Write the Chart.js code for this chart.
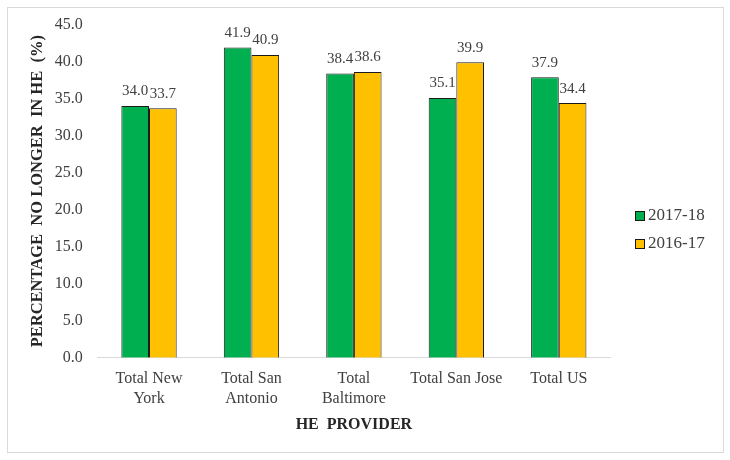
<!DOCTYPE html>
<html>
<head>
<meta charset="utf-8">
<script src="https://cdn.jsdelivr.net/npm/chart.js@4"></script>
<style>
  html, body { margin: 0; padding: 0; background: #fff; }
  #wrap {
    position: absolute; left: 7px; top: 7px;
    width: 715px; height: 444px;
    border: 1px solid #d9d9d9;
  }
  #chart { position: absolute; left: 0; top: 0; }
</style>
</head>
<body>
<div id="wrap"><canvas id="chart" width="715" height="444"></canvas></div>
<script>
const providers = [
  ["Total New", "York"],
  ["Total San", "Antonio"],
  ["Total", "Baltimore"],
  "Total San Jose",
  "Total US",
];
const values1718 = [34.0, 41.9, 38.4, 35.1, 37.9];
const values1617 = [33.7, 40.9, 38.6, 39.9, 34.4];
const seriesNames = ["2017-18", "2016-17"];

const serif = "'Liberation Serif', 'Times New Roman', serif";
const textColor = "#404040";

// numbers above the bars, drawn first so the bars can cover them like in excel
const barValues = {
  id: "barValues",
  beforeDatasetsDraw(chart) {
    const ctx = chart.ctx;
    ctx.save();
    ctx.font = "15px " + serif;
    ctx.fillStyle = textColor;
    ctx.textAlign = "center";
    ctx.textBaseline = "bottom";
    chart.data.datasets.forEach((ds, i) => {
      chart.getDatasetMeta(i).data.forEach((bar, j) => {
        ctx.fillText(ds.data[j].toFixed(1), bar.x, bar.y - 7);
      });
    });
    ctx.restore();
  },
};

// legend on the right, drawn by hand so it sits where excel put it
const sideLegend = {
  id: "sideLegend",
  afterDraw(chart) {
    const ctx = chart.ctx;
    const x = chart.chartArea.right + 25;
    const mid = chart.height / 2;
    const gap = 28;
    ctx.save();
    ctx.font = "17px " + serif;
    ctx.textBaseline = "middle";
    ctx.textAlign = "left";
    chart.data.datasets.forEach((ds, i) => {
      const y = mid + (i - (chart.data.datasets.length - 1) / 2) * gap;
      ctx.fillStyle = ds.backgroundColor;
      ctx.fillRect(x, y - 5, 10, 10);
      ctx.strokeStyle = "#1a1a1a";
      ctx.lineWidth = 1;
      ctx.strokeRect(x + 0.5, y - 4.5, 9, 9);
      ctx.fillStyle = textColor;
      ctx.fillText(ds.label, x + 13, y);
    });
    ctx.restore();
  },
};

const ctx = document.getElementById("chart");

new Chart(ctx, {
  type: "bar",
  data: {
    labels: providers,
    datasets: [
      {
        label: seriesNames[0],
        data: values1718,
        backgroundColor: "#00b050",
        borderColor: "#1a1a1a",
        borderWidth: 1,
        borderSkipped: "bottom",
      },
      {
        label: seriesNames[1],
        data: values1617,
        backgroundColor: "#ffc000",
        borderColor: "#1a1a1a",
        borderWidth: 1,
        borderSkipped: "bottom",
      },
    ],
  },
  plugins: [barValues, sideLegend],
  options: {
    responsive: false,
    animation: false,
    layout: { padding: { left: 16, right: 113, top: 9, bottom: 14 } },
    datasets: {
      bar: { categoryPercentage: 0.54, barPercentage: 1.0 },
    },
    plugins: {
      tooltip: { enabled: false },
      legend: { display: false },
    },
    scales: {
      x: {
        grid: { display: false },
        border: { display: true, color: "#d9d9d9" },
        ticks: {
          color: textColor,
          font: { family: serif, size: 16, lineHeight: 1.25 },
          maxRotation: 0,
          autoSkip: false,
        },
        title: {
          display: true,
          text: "HE  PROVIDER",
          color: "#262626",
          font: { family: serif, size: 16, weight: "bold" },
          padding: { top: 3 },
        },
      },
      y: {
        min: 0,
        max: 45,
        grid: { display: false },
        border: { display: false },
        ticks: {
          stepSize: 5,
          color: textColor,
          font: { family: serif, size: 16 },
          padding: 7,
          callback: (v) => v.toFixed(1),
        },
        title: {
          display: true,
          text: "PERCENTAGE  NO LONGER  IN HE  (%)",
          color: "#262626",
          font: { family: serif, size: 16.5, weight: "bold" },
          padding: { bottom: 0 },
        },
      },
    },
  },
});
</script>
</body>
</html>
